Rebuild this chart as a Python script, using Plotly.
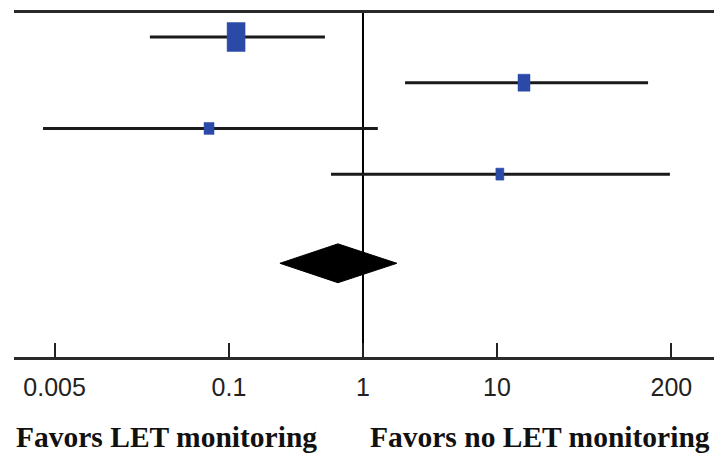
import plotly.graph_objects as go

# Study-level odds ratios with 95% confidence intervals
study_or = [0.113, 15.9, 0.071, 10.5]
study_lo = [0.0257, 2.06, 0.0041, 0.577]
study_hi = [0.52, 134.0, 1.29, 195.0]
study_row = [1, 2, 3, 4]

# Pooled estimate
pooled_or = 0.65
pooled_lo = 0.24
pooled_hi = 1.79
pooled_row = 5.95

tick_vals = [0.005, 0.1, 1, 10, 200]
tick_text = ["0.005", "0.1", "1", "10", "200"]
left_label = "Favors LET monitoring"
right_label = "Favors no LET monitoring"

# Box sizes in pixels (width, height) reflecting study weight
box_w = [18, 12, 10, 8]
box_h = [29, 17, 12, 12]
box_color = "#2b4aa8"
line_color = "#1a1a1a"

WIDTH, HEIGHT = 724, 456
M_L, M_R, M_T, M_B = 14, 10, 13, 99
X_RANGE = [-2.604, 2.619]
Y_RANGE = [8.0, 0.475]

plot_w = WIDTH - M_L - M_R
plot_h = HEIGHT - M_T - M_B
px_per_decade = plot_w / (X_RANGE[1] - X_RANGE[0])
px_per_row = plot_h / (Y_RANGE[0] - Y_RANGE[1])

fig = go.Figure()

# Confidence interval whiskers
for lo, hi, r in zip(study_lo, study_hi, study_row):
    fig.add_trace(go.Scatter(
        x=[lo, hi], y=[r, r], mode="lines",
        line=dict(color=line_color, width=3),
        hoverinfo="skip", showlegend=False,
    ))

# Weighted boxes, sized in pixels around each estimate
for est, r, w, h in zip(study_or, study_row, box_w, box_h):
    fx = 10 ** ((w / 2) / px_per_decade)
    dy = (h / 2) / px_per_row
    fig.add_trace(go.Scatter(
        x=[est / fx, est * fx, est * fx, est / fx, est / fx],
        y=[r - dy, r - dy, r + dy, r + dy, r - dy],
        mode="lines", fill="toself", fillcolor=box_color,
        line=dict(color=box_color, width=0.5),
        hoverinfo="skip", showlegend=False,
    ))

# Pooled diamond
dh = 0.425
fig.add_trace(go.Scatter(
    x=[pooled_lo, pooled_or, pooled_hi, pooled_or, pooled_lo],
    y=[pooled_row, pooled_row - dh, pooled_row, pooled_row + dh, pooled_row],
    mode="lines", fill="toself", fillcolor="black",
    line=dict(color="black", width=1),
    hoverinfo="skip", showlegend=False,
))

# Line of no effect
shapes = [dict(
    type="line", xref="x", yref="paper",
    x0=1, x1=1, y0=0, y1=1,
    line=dict(color="black", width=2), layer="below",
)]

label_font = dict(family="Liberation Serif, Times New Roman, serif", size=29.5, color="#111")

fig.update_layout(
    width=WIDTH, height=HEIGHT,
    margin=dict(l=M_L, r=M_R, t=M_T, b=M_B),
    plot_bgcolor="white", paper_bgcolor="white",
    shapes=shapes,
    xaxis=dict(
        type="log", range=X_RANGE,
        tickvals=tick_vals, ticktext=tick_text,
        ticks="inside", ticklen=14, tickwidth=1.5, tickcolor="#222",
        showline=True, linewidth=3, linecolor="#2a2a2a", mirror=True,
        showgrid=False, zeroline=False,
        tickfont=dict(family="Liberation Sans, Arial, sans-serif", size=25, color="#222"),
        ticklabelstandoff=6,
    ),
    yaxis=dict(range=Y_RANGE, visible=False, showgrid=False, zeroline=False),
    annotations=[
        dict(text=f"<b>{left_label}</b>", xref="paper", yref="paper",
             x=0, y=-0.2326, xanchor="left", yanchor="middle", showarrow=False,
             font=label_font),
        dict(text=f"<b>{right_label}</b>", xref="paper", yref="paper",
             x=0.997, y=-0.2326, xanchor="right", yanchor="middle", showarrow=False,
             font=label_font),
    ],
)

fig.write_html("out.html")
